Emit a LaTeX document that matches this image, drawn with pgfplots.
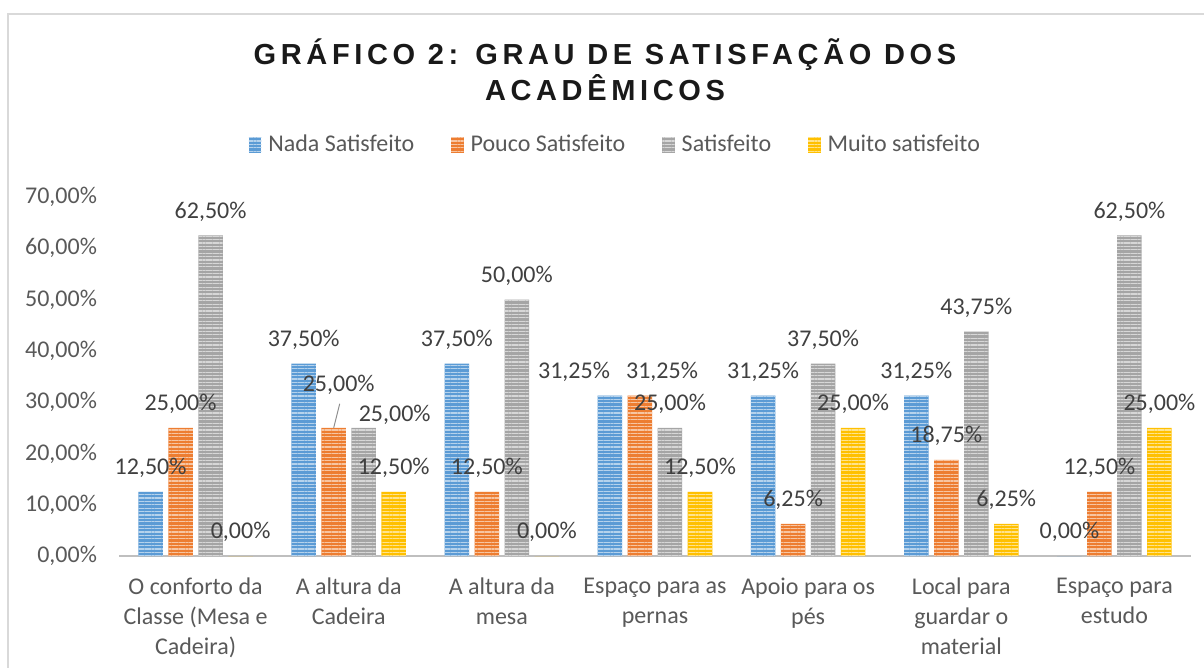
\documentclass[border=0pt]{standalone}
\usepackage{fontspec}
\setmainfont{Carlito}
\newfontfamily\titlefont[LetterSpace=16]{Liberation Sans}
\usepackage{pgfplots}
\usepackage{pgfplotstable}
\pgfplotsset{compat=1.18}
\usetikzlibrary{patterns.meta}
\definecolor{cblue}{HTML}{5B9BD5}
\definecolor{corange}{HTML}{ED7D31}
\definecolor{cgray}{HTML}{A5A5A5}
\definecolor{cyellow}{HTML}{FFC000}
\definecolor{labtext}{HTML}{404040}
\definecolor{ticktext}{HTML}{595959}
\definecolor{axisline}{HTML}{BFBFBF}

\pgfplotstableread{
x y dx dy
0 12.5 0 0
1 37.5 0 0
2 37.5 0 0
3 31.25 -18 0
4 31.25 0 0
5 31.25 0 0
6 0 0 0
}\tblue
\pgfplotstableread{
x y dx dy
0 25 0 0
1 25 2.5 9.5
2 12.5 0 0
3 31.25 11 0
4 6.25 0 0
5 18.75 0 0
6 12.5 0 0
}\torange
\pgfplotstableread{
x y dx dy
0 62.5 0 0
1 25 15.5 -5.5
2 50 0 0
3 25 0 0
4 37.5 0 0
5 43.75 0 0
6 62.5 0 0
}\tgray
\pgfplotstableread{
x y dx dy
0 0 0 0
1 12.5 0 0
2 0 0 0
3 12.5 0 0
4 25 0 0
5 6.25 0 0
6 25 0 0
}\tyellow

\pgfplotsset{
  /pgfplots/ybar legend/.style={/pgfplots/legend image code/.code={%
    \path[##1, draw=none] (0pt,-3.8pt) rectangle (6.2pt,3.8pt);}},
  striped/.style={fill=#1, draw=none,
    postaction={pattern={Lines[angle=0,distance=1.7pt,line width=0.55pt]}, pattern color=white!55!#1}},
}

\begin{document}
\begin{tikzpicture}
\useasboundingbox (0,0) rectangle (602pt,-334pt);
\draw[color=black!15, line width=0.75pt] (4pt,-340pt) -- (4pt,-7pt) -- (610pt,-7pt);
\node[align=center, font=\titlefont\bfseries\fontsize{14.5}{18}\selectfont, text=black!90] at (302.5pt,-35pt)
  {GRÁFICO 2: GRAU DE SATISFAÇÃO DOS\\ACADÊMICOS};
\begin{axis}[
  at={(59.5pt,-278pt)}, anchor=south west,
  scale only axis, width=536pt, height=179.5pt,
  xmin=-0.5, xmax=6.5, ymin=0, ymax=70,
  ybar=2.75pt, bar width=12.25pt,
  separate axis lines,
  axis x line=bottom, axis y line=left,
  x axis line style={draw=axisline, line width=1.3pt, -},
  y axis line style={draw=none},
  major tick length=0pt,
  clip=false,
  xtick={0,1,2,3,4,5,6},
  xticklabels={{O conforto da\\Classe (Mesa e\\Cadeira)},{A altura da\\Cadeira},{A altura da\\mesa},{Espaço para as\\pernas},{Apoio para os\\pés},{Local para\\guardar o\\material},{Espaço para\\estudo}},
  xticklabel style={align=center, font=\fontsize{12}{15}\selectfont, text=ticktext, yshift=-7.5pt},
  ytick={0,10,20,30,40,50,60,70},
  yticklabels={{0,00\%},{10,00\%},{20,00\%},{30,00\%},{40,00\%},{50,00\%},{60,00\%},{70,00\%}},
  yticklabel style={font=\fontsize{12}{14.6}\selectfont, text=ticktext, xshift=-7.5pt},
  visualization depends on={\thisrow{dx} \as \ldx},
  visualization depends on={\thisrow{dy} \as \ldy},
  nodes near coords={\pgfmathprintnumber[fixed, fixed zerofill, precision=2, use comma, assume math mode=true]{\pgfplotspointmeta}\%},
  nodes near coords style={anchor=center, font=\fontsize{12}{14.6}\selectfont, text=labtext, xshift={\ldx*1pt}, yshift={(12+\ldy)*1pt}},
  legend columns=4,
  legend cell align=left,
  legend style={at={(0.464,1.145)}, anchor=center, draw=none, fill=none,
    font=\fontsize{12}{14.6}\selectfont, text=ticktext,
    /tikz/every odd column/.append style={column sep=1.5pt},
    /tikz/every even column/.append style={column sep=16.5pt}},
]
\addplot[striped=cblue] table[x=x,y=y] {\tblue};
\addplot[striped=corange] table[x=x,y=y] {\torange};
\addplot[striped=cgray] table[x=x,y=y] {\tgray};
\addplot[striped=cyellow] table[x=x,y=y] {\tyellow};
\legend{Nada Satisfeito, Pouco Satisfeito, Satisfeito, Muito satisfeito}
\draw[color=black!45, line width=0.5pt] ([xshift=-7.5pt]axis cs:1,25) -- ([xshift=-4.5pt,yshift=12pt]axis cs:1,25);
\end{axis}
\end{tikzpicture}
\end{document}
